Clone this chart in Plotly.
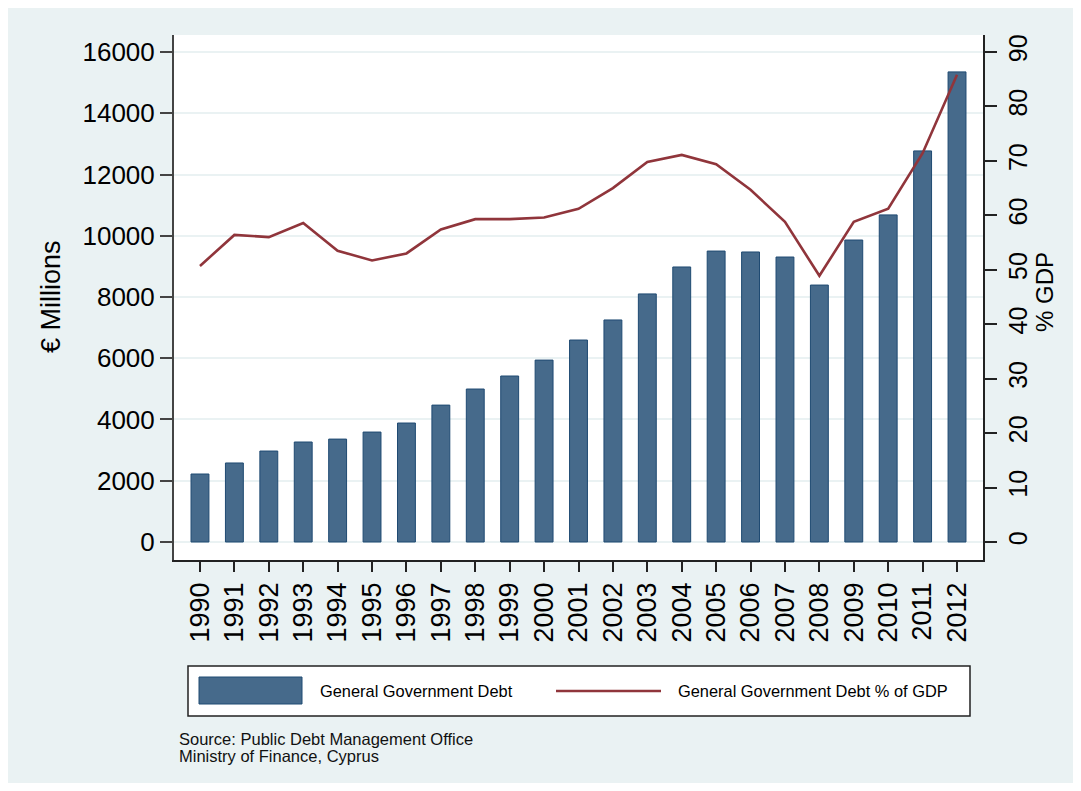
import plotly.graph_objects as go

years = list(range(1990, 2013))
debt_millions = [2220, 2580, 2970, 3265, 3360, 3590, 3885, 4470, 4995, 5420, 5940,
                 6595, 7250, 8100, 8980, 9500, 9470, 9305, 8390, 9860, 10680, 12770, 15350]
debt_pct_gdp = [50.7, 56.4, 56.0, 58.6, 53.5, 51.7, 53.0, 57.4, 59.3, 59.3, 59.6,
                61.2, 65.0, 69.8, 71.1, 69.4, 64.7, 58.8, 48.9, 58.8, 61.2, 71.4, 85.8]
left_ticks = list(range(0, 16001, 2000))
right_ticks = list(range(0, 91, 10))

BG = "#EAF2F3"
BAR = "#466A8B"
BAR_EDGE = "#1F4A72"
LINE = "#90353B"
FONT = "Liberation Sans, Arial, sans-serif"

# page is offset by the 8px body margin of the browser
W, H = 1065, 775
L, R, T, B = 166, 90, 27, 223

fig = go.Figure()
fig.add_trace(
    go.Bar(
        x=years,
        y=debt_millions,
        name="General Government Debt",
        width=0.52,
        marker=dict(color=BAR, line=dict(color=BAR_EDGE, width=1)),
    )
)
fig.add_trace(
    go.Scatter(
        x=years,
        y=debt_pct_gdp,
        mode="lines",
        name="General Government Debt % of GDP",
        line=dict(color=LINE, width=2.6),
        yaxis="y2",
    )
)

fig.update_layout(
    width=W,
    height=H,
    margin=dict(l=L, r=R, t=T, b=B),
    paper_bgcolor=BG,
    plot_bgcolor="white",
    font=dict(family=FONT, color="black"),
    showlegend=False,
    xaxis=dict(
        range=[1989.245, 2012.755],
        tickvals=years,
        ticktext=[str(y) for y in years],
        tickangle=-90,
        ticks="outside",
        ticklen=10,
        tickwidth=1.5,
        tickcolor="#222",
        showline=True,
        linecolor="#222",
        linewidth=1.5,
        showgrid=False,
        zeroline=False,
        tickfont=dict(size=27),
        fixedrange=True,
    ),
    yaxis=dict(
        range=[-588, 16555],
        tickvals=left_ticks,
        ticktext=[str(v) for v in left_ticks],
        ticks="outside",
        ticklen=12,
        tickwidth=1.5,
        tickcolor="#444",
        showline=True,
        linecolor="#444",
        linewidth=2,
        showgrid=True,
        gridcolor=BG,
        gridwidth=2,
        zeroline=False,
        tickfont=dict(size=26),
    ),
    yaxis2=dict(
        overlaying="y",
        side="right",
        range=[-3.306, 93.12],
        tickvals=right_ticks,
        ticktext=[str(v) for v in right_ticks],
        tickangle=-90,
        ticks="outside",
        ticklen=12,
        tickwidth=1.5,
        tickcolor="#222",
        showline=True,
        linecolor="#222",
        linewidth=1.5,
        showgrid=False,
        zeroline=False,
        tickfont=dict(size=25),
    ),
)

pw, ph = W - L - R, H - T - B


def px_x(p):
    # page pixel -> paper fraction
    return (p - 8 - L) / pw


def px_y(p):
    return (H - B - (p - 8)) / ph


# axis titles
fig.add_annotation(
    xref="paper", yref="paper", x=px_x(51), y=px_y(297), text="€ Millions", textangle=-90,
    showarrow=False, font=dict(size=27), xanchor="center", yanchor="middle",
)
fig.add_annotation(
    xref="paper", yref="paper", x=px_x(1044), y=px_y(292), text="% GDP", textangle=-90,
    showarrow=False, font=dict(size=24), xanchor="center", yanchor="middle",
)

# legend box drawn by hand
fig.add_shape(type="rect", xref="paper", yref="paper",
              x0=px_x(188), x1=px_x(970), y0=px_y(716), y1=px_y(666),
              fillcolor="white", line=dict(color="#222", width=1.5))
fig.add_shape(type="rect", xref="paper", yref="paper",
              x0=px_x(199), x1=px_x(302), y0=px_y(704), y1=px_y(677),
              fillcolor=BAR, line=dict(color=BAR_EDGE, width=1))
fig.add_shape(type="line", xref="paper", yref="paper",
              x0=px_x(556), x1=px_x(661), y0=px_y(691), y1=px_y(691),
              line=dict(color=LINE, width=2.6))
fig.add_annotation(xref="paper", yref="paper", x=px_x(318), y=px_y(691),
                   text="General Government Debt", showarrow=False,
                   xanchor="left", yanchor="middle", font=dict(size=16.4))
fig.add_annotation(xref="paper", yref="paper", x=px_x(676), y=px_y(691),
                   text="General Government Debt % of GDP", showarrow=False,
                   xanchor="left", yanchor="middle", font=dict(size=16.4))

# source note, two lines set tight like the original
for txt, yc in [("Source: Public Debt Management Office", 739),
                ("Ministry of Finance, Cyprus", 756)]:
    fig.add_annotation(xref="paper", yref="paper", x=px_x(177), y=px_y(yc),
                       text=txt, showarrow=False, xanchor="left", yanchor="middle",
                       font=dict(size=16.5, color="#111"))

fig.write_html("out.html")
